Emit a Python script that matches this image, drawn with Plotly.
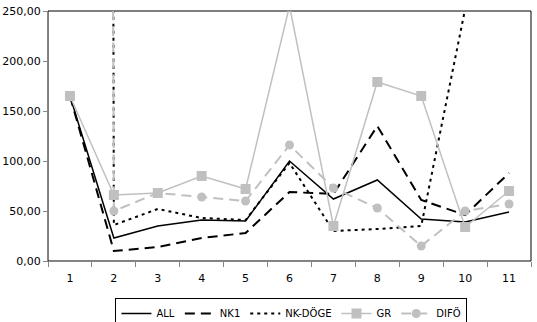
import plotly.graph_objects as go

categories = [1, 2, 3, 4, 5, 6, 7, 8, 9, 10, 11]
all_vals = [165, 23, 35, 41, 40, 100, 62, 81, 42, 39, 49]
nk1_vals = [165, 10, 14, 23, 28, 69, 67, 135, 61, 46, 88]
nkdoge_vals = [20000, 36, 52, 43, 41, 98, 30, 32, 35, 252, 700]
gr_vals = [165, 66, 68, 85, 72, 255, 35, 179, 165, 34, 70]
dif_vals = [12000, 50, 68, 64, 60, 116, 73, 53, 15, 50, 57]
y_ticks = [0, 50, 100, 150, 200, 250]

GRAY = "#c0c0c0"
AXIS_GRAY = "#868686"
FONT = "DejaVu Sans"

fig = go.Figure()
fig.add_trace(go.Scatter(x=categories, y=all_vals, name="ALL", mode="lines",
                         line=dict(color="black", width=1.5)))
fig.add_trace(go.Scatter(x=categories, y=nk1_vals, name="NK1", mode="lines",
                         line=dict(color="black", width=2, dash="10px,6px")))
fig.add_trace(go.Scatter(x=categories, y=nkdoge_vals, name="NK-DÖGE", mode="lines",
                         line=dict(color="black", width=2, dash="3px,4px")))
fig.add_trace(go.Scatter(x=categories, y=gr_vals, name="GR", mode="lines+markers",
                         line=dict(color=GRAY, width=1.5),
                         marker=dict(symbol="square", size=10, color=GRAY)))
fig.add_trace(go.Scatter(x=categories, y=dif_vals, name="DIFÖ", mode="lines+markers",
                         line=dict(color=GRAY, width=2, dash="10px,6px"),
                         marker=dict(symbol="circle", size=9, color=GRAY)))

fig.update_layout(
    width=537, height=322,
    margin=dict(l=48, r=6, t=11, b=61, autoexpand=False),
    paper_bgcolor="white", plot_bgcolor="white",
    separators=",.",
    font=dict(family=FONT, size=11, color="black"),
    showlegend=True,
    legend=dict(orientation="h", x=0.504, xanchor="center", y=-0.148, yanchor="top",
                bordercolor="black", borderwidth=1, font=dict(size=10),
                itemwidth=30, tracegroupgap=0),
    shapes=[dict(type="rect", xref="paper", yref="paper", x0=0, x1=1, y0=0, y1=1,
                 line=dict(color="black", width=1), layer="below")],
)
fig.update_xaxes(range=[0.5, 11.5], tickvals=categories, ticktext=[str(c) for c in categories],
                 showgrid=False, zeroline=False, showline=True, linecolor=AXIS_GRAY, linewidth=1,
                 ticks="", ticklabelstandoff=7,
                 minor=dict(tickvals=[c - 0.5 for c in categories] + [11.5], ticks="outside",
                            ticklen=5, tickcolor=AXIS_GRAY, showgrid=False))
fig.update_yaxes(range=[0, 250], tickvals=y_ticks, tickformat=".2f",
                 showgrid=False, zeroline=False, showline=True, linecolor=AXIS_GRAY, linewidth=1,
                 ticks="outside", ticklen=4, tickcolor=AXIS_GRAY)

fig.write_html("out.html")
